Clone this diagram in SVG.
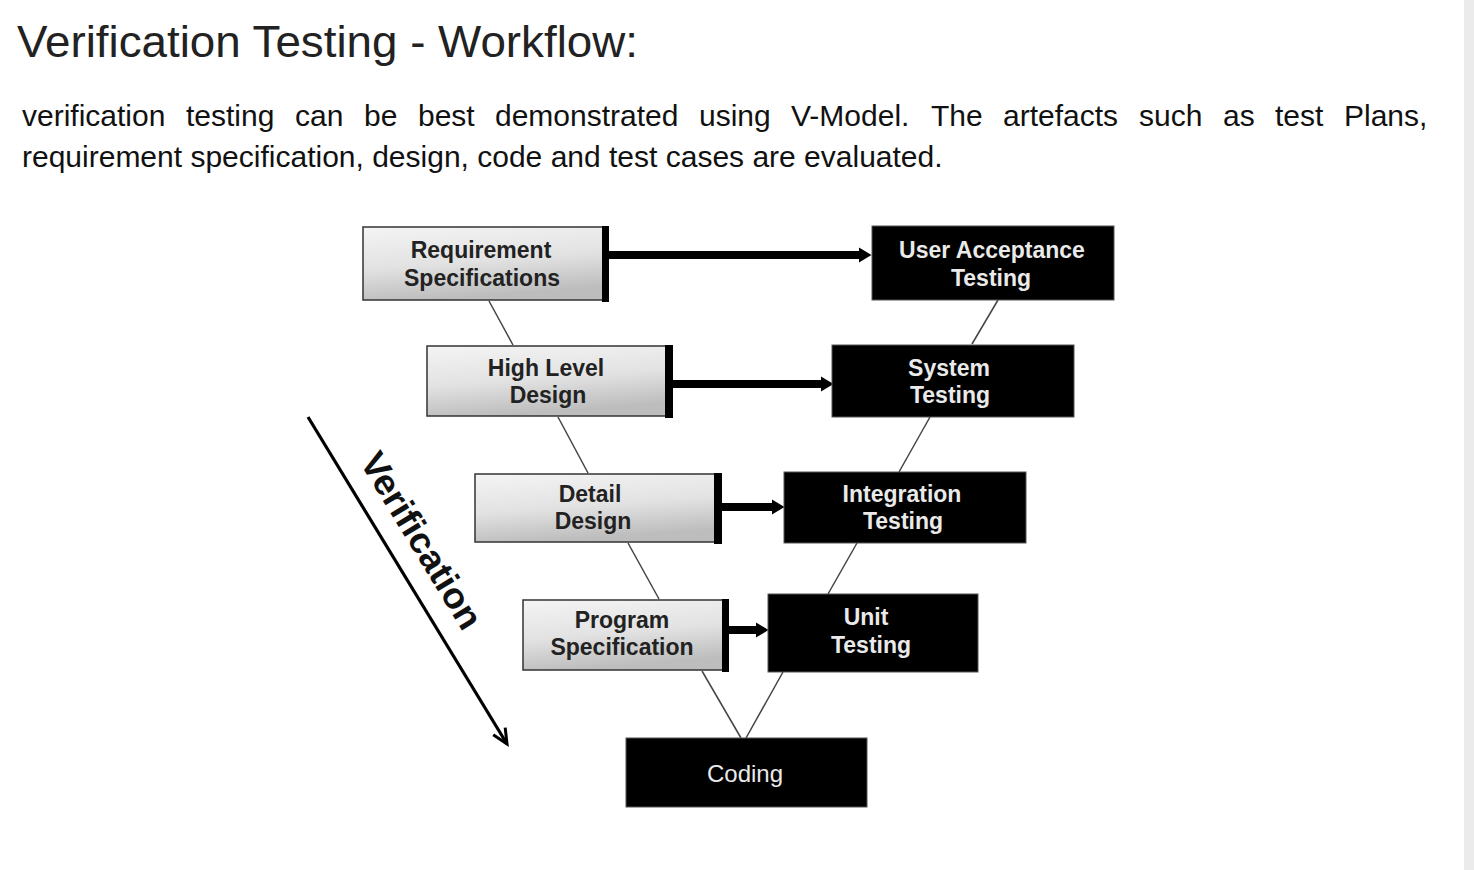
<svg xmlns="http://www.w3.org/2000/svg" width="1474" height="870" viewBox="0 0 1474 870">
<defs>
<linearGradient id="gbox" x1="0" y1="0" x2="0.25" y2="1">
<stop offset="0" stop-color="#f4f4f4"/>
<stop offset="0.55" stop-color="#e2e2e2"/>
<stop offset="1" stop-color="#bdbdbd"/>
</linearGradient>
<marker id="head" markerUnits="userSpaceOnUse" markerWidth="13" markerHeight="16" refX="0" refY="8" orient="auto" viewBox="0 0 13 16">
<path d="M0,0.5 L12.5,8 L0,15.5 z" fill="#000"/>
</marker>
<marker id="vhead" markerUnits="userSpaceOnUse" markerWidth="20" markerHeight="20" refX="16" refY="8" orient="auto" viewBox="0 0 20 16">
<path d="M1,1 L16,8 L1,15" fill="none" stroke="#000" stroke-width="3"/>
</marker>
</defs>
<style>
.title{font-family:"Liberation Sans",Arial,sans-serif;font-size:45px;fill:#222}
.para{font-family:"Liberation Sans",Arial,sans-serif;font-size:30px;fill:#111}
.gray rect.b{fill:url(#gbox);stroke:#333;stroke-width:1.5}
.gray rect.edge{fill:#000}
.black rect.b{fill:#000;stroke:#555;stroke-width:1}
.lbl{font-family:"Liberation Sans",Arial,sans-serif;font-size:23px;font-weight:bold;text-anchor:middle}
.gray .lbl{fill:#222}
.black .lbl{fill:#eaeaea}
.thin{stroke:#444;stroke-width:1.5;fill:none}
.thick{stroke:#000;stroke-width:8;fill:none}
</style>
<rect x="0" y="0" width="1474" height="870" fill="#fff"/>
<rect x="1464" y="0" width="10" height="870" fill="#ebebeb"/>
<text class="title" x="17" y="57" textLength="621" lengthAdjust="spacingAndGlyphs">Verification Testing - Workflow:</text>
<text class="para" y="126"><tspan x="22">verification</tspan><tspan x="186">testing</tspan><tspan x="295">can</tspan><tspan x="364">be</tspan><tspan x="418">best</tspan><tspan x="495">demonstrated</tspan><tspan x="699">using</tspan><tspan x="791">V-Model.</tspan><tspan x="931">The</tspan><tspan x="1003">artefacts</tspan><tspan x="1139">such</tspan><tspan x="1223">as</tspan><tspan x="1275">test</tspan><tspan x="1344">Plans,</tspan></text>
<text class="para" x="22" y="167">requirement specification, design, code and test cases are evaluated.</text>

<g id="connectors">
<line class="thin" x1="489" y1="301" x2="513" y2="345"/>
<line class="thin" x1="558" y1="417" x2="588" y2="473"/>
<line class="thin" x1="628" y1="543" x2="659" y2="599"/>
<line class="thin" x1="702" y1="671" x2="741" y2="738"/>
<line class="thin" x1="783" y1="672" x2="746" y2="738"/>
<line class="thin" x1="857" y1="543" x2="828" y2="594"/>
<line class="thin" x1="930" y1="417" x2="899" y2="472"/>
<line class="thin" x1="998" y1="300" x2="972" y2="344"/>
<line class="thick" x1="609" y1="255" x2="859" y2="255" marker-end="url(#head)"/>
<line class="thick" x1="673" y1="384" x2="821" y2="384" marker-end="url(#head)"/>
<line class="thick" x1="722" y1="507" x2="772" y2="507" marker-end="url(#head)"/>
<line class="thick" x1="729" y1="630" x2="756" y2="630" marker-end="url(#head)"/>
<line x1="308" y1="417" x2="507" y2="744" stroke="#000" stroke-width="3.2" marker-end="url(#vhead)"/>
</g>

<g id="req" class="gray">
<rect class="b" x="363" y="227" width="243" height="73"/>
<rect class="edge" x="602" y="226" width="7" height="76"/>
<text class="lbl" x="481" y="258">Requirement</text>
<text class="lbl" x="482" y="286">Specifications</text>
</g>
<g id="hld" class="gray">
<rect class="b" x="427" y="346" width="242" height="70"/>
<rect class="edge" x="665" y="345" width="8" height="73"/>
<text class="lbl" x="546" y="376">High Level</text>
<text class="lbl" x="548" y="403">Design</text>
</g>
<g id="dd" class="gray">
<rect class="b" x="475" y="474" width="243" height="68"/>
<rect class="edge" x="714" y="473" width="8" height="71"/>
<text class="lbl" x="590" y="502">Detail</text>
<text class="lbl" x="593" y="529">Design</text>
</g>
<g id="ps" class="gray">
<rect class="b" x="523" y="600" width="203" height="70"/>
<rect class="edge" x="722" y="599" width="7" height="73"/>
<text class="lbl" x="622" y="628">Program</text>
<text class="lbl" x="622" y="655">Specification</text>
</g>

<g id="uat" class="black">
<rect class="b" x="872" y="226" width="242" height="74"/>
<text class="lbl" x="992" y="258">User Acceptance</text>
<text class="lbl" x="991" y="286">Testing</text>
</g>
<g id="sys" class="black">
<rect class="b" x="832" y="345" width="242" height="72"/>
<text class="lbl" x="949" y="376">System</text>
<text class="lbl" x="950" y="403">Testing</text>
</g>
<g id="int" class="black">
<rect class="b" x="784" y="472" width="242" height="71"/>
<text class="lbl" x="902" y="502">Integration</text>
<text class="lbl" x="903" y="529">Testing</text>
</g>
<g id="unit" class="black">
<rect class="b" x="768" y="594" width="210" height="78"/>
<text class="lbl" x="866" y="625">Unit</text>
<text class="lbl" x="871" y="653">Testing</text>
</g>
<g id="coding" class="black">
<rect class="b" x="626" y="738" width="241" height="69"/>
<text class="lbl" x="745" y="782" style="font-weight:normal;font-size:24px">Coding</text>
</g>

<g id="verification">
<text transform="translate(411,547) rotate(58.6)" x="0" y="0" text-anchor="middle" font-family="Liberation Sans, Arial, sans-serif" font-weight="bold" font-size="36" fill="#111" textLength="200" lengthAdjust="spacingAndGlyphs">Verification</text>
</g>
</svg>
